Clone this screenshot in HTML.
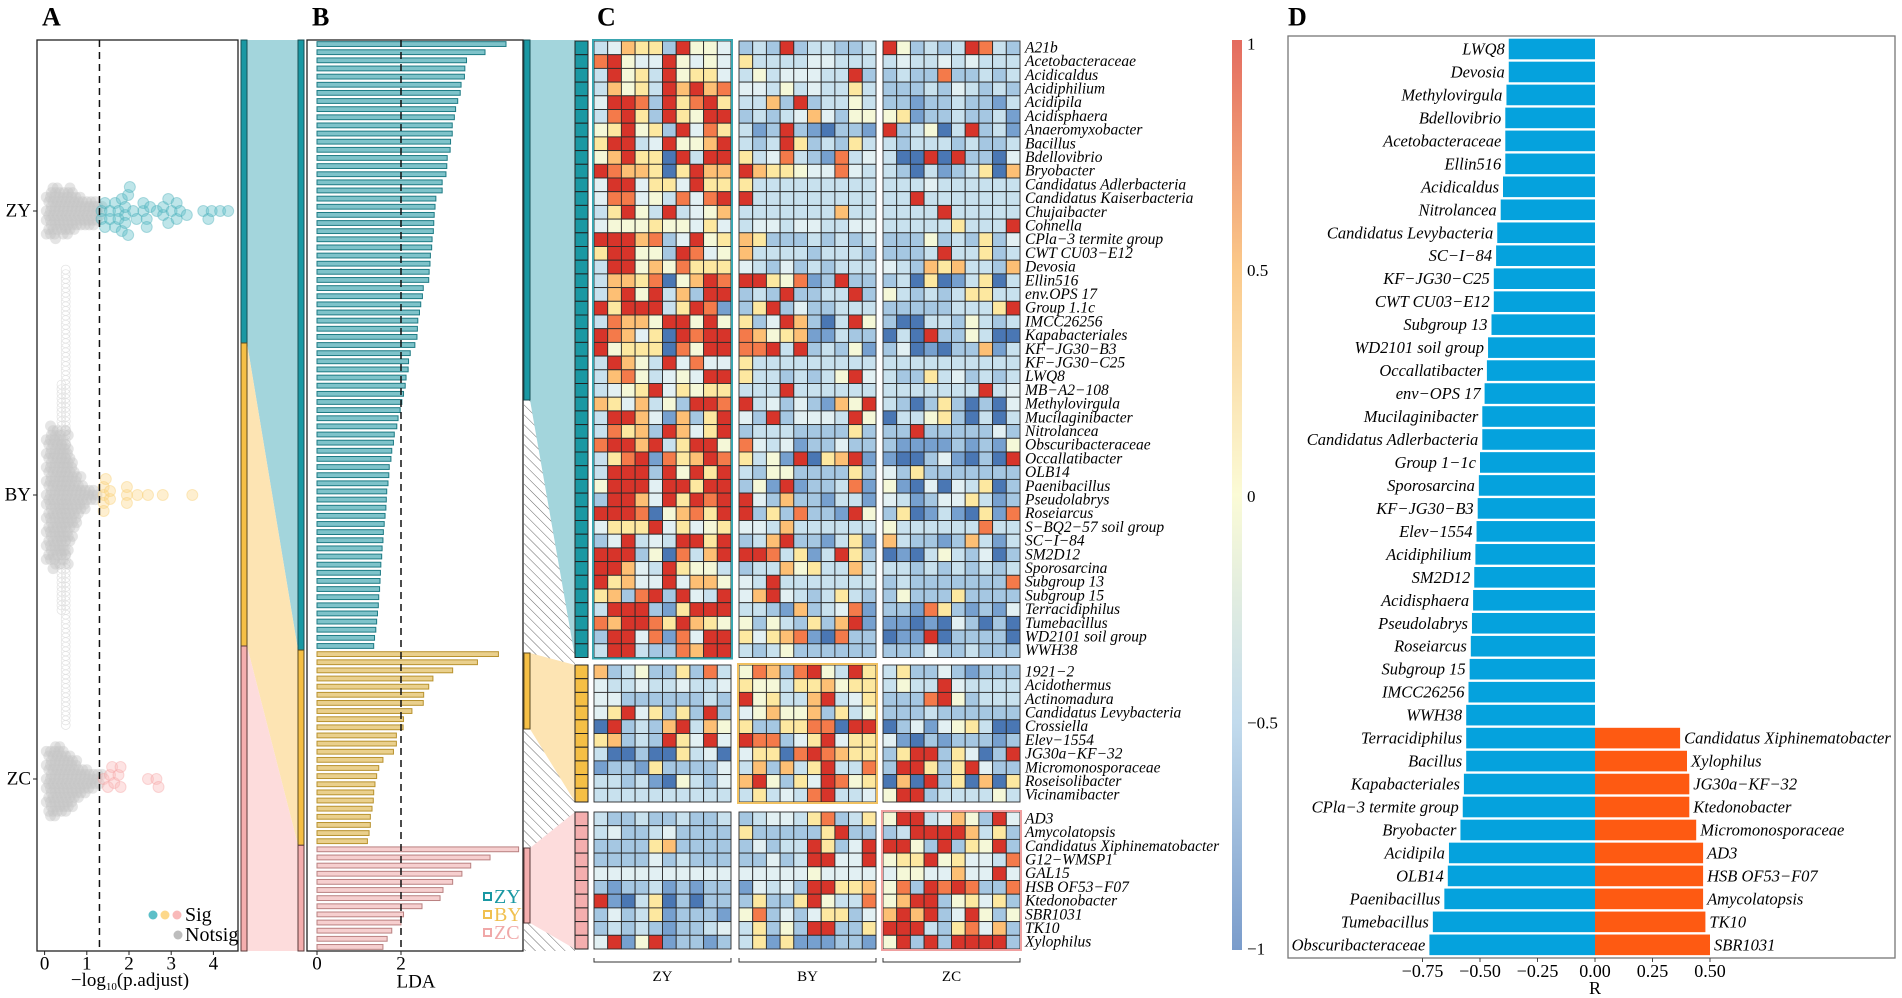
<!DOCTYPE html>
<html><head><meta charset="utf-8"><title>LEfSe and correlation figure</title>
<style>
html,body{margin:0;padding:0;background:#fff;}
svg{display:block;font-family:"Liberation Serif",serif;}
</style></head>
<body>
<svg id="fig" width="1902" height="998" viewBox="0 0 1902 998" xmlns="http://www.w3.org/2000/svg">
<defs>
<pattern id="hatch" patternUnits="userSpaceOnUse" width="7" height="7" patternTransform="rotate(-45)">
<line x1="0" y1="0" x2="0" y2="7" stroke="#555" stroke-width="0.9"/>
</pattern>
<linearGradient id="cbar" x1="0" y1="0" x2="0" y2="1">
<stop offset="0" stop-color="#e46b5f"/>
<stop offset="0.25" stop-color="#fbc98a"/>
<stop offset="0.5" stop-color="#fbfbd6"/>
<stop offset="0.75" stop-color="#c2dbed"/>
<stop offset="1" stop-color="#7a9ccb"/>
</linearGradient>
</defs>
<g id="panelA"></g>
<g id="conn1"></g>
<g id="panelB"></g>
<g id="conn2"></g>
<g id="panelC"></g>
<g id="panelD"></g>
</svg>
<script>
// ---------- Panel A data ----------
const groupsA = ["ZY","BY","ZC"];
const grayBins = [0.1,0.2,0.3,0.4,0.5,0.6,0.7,0.8,0.9,1.0,1.1,1.2,1.3];
const grayCountsZY = [10,12,11,9,10,11,8,7,7,6,6,5,4];
const grayCountsBY = [28,32,30,26,30,20,14,10,6,4,3,2,1];
const grayCountsZC = [14,16,16,14,14,12,10,8,6,5,4,4,3];
const ghostBY = [0,0,0,50,100,0,0,0,0,0,0,0,0];
const sigZY = [1.35,1.35,1.43,1.43,1.55,1.55,1.67,1.67,1.75,1.75,1.83,1.83,1.91,1.91,1.91,1.98,1.98,2.02,2.10,2.18,2.34,2.34,2.42,2.42,2.50,2.66,2.81,2.81,2.93,2.93,3.01,3.13,3.13,3.21,3.37,3.76,3.88,3.96,4.16,4.35];
const sigBY = [1.40,1.40,1.40,1.40,1.45,1.55,1.55,1.95,1.95,1.95,2.20,2.45,2.80,3.50];
const sigZC = [1.40,1.50,1.55,1.60,1.65,1.75,1.80,1.80,2.45,2.65,2.70];
const ticksA = [0,1,2,3,4];

// ---------- Panel B data ----------
const ldaZY = [4.5,4.0,3.56,3.52,3.51,3.43,3.41,3.35,3.30,3.27,3.22,3.22,3.18,3.17,3.10,3.09,3.07,2.98,2.98,2.83,2.81,2.79,2.78,2.77,2.74,2.73,2.70,2.69,2.67,2.66,2.53,2.51,2.47,2.44,2.40,2.39,2.38,2.33,2.22,2.18,2.17,2.12,2.10,2.06,2.02,1.98,1.93,1.90,1.84,1.82,1.78,1.76,1.72,1.71,1.69,1.66,1.65,1.64,1.62,1.60,1.58,1.57,1.55,1.54,1.52,1.51,1.50,1.49,1.47,1.46,1.44,1.42,1.40,1.37,1.35];
const ldaBY = [4.32,3.82,3.23,2.76,2.66,2.54,2.53,2.26,2.06,2.05,1.89,1.89,1.82,1.57,1.47,1.42,1.38,1.35,1.34,1.31,1.27,1.27,1.24,1.20];
const ldaZC = [4.80,4.12,3.66,3.45,3.23,3.00,2.93,2.50,2.06,2.00,1.78,1.67,1.57];
const ticksB = [0,2];

// ---------- Panel C data ----------
const rowsZY = ["A21b","Acetobacteraceae","Acidicaldus","Acidiphilium","Acidipila","Acidisphaera","Anaeromyxobacter","Bacillus","Bdellovibrio","Bryobacter","Candidatus Adlerbacteria","Candidatus Kaiserbacteria","Chujaibacter","Cohnella","CPla−3 termite group","CWT CU03−E12","Devosia","Ellin516","env.OPS 17","Group 1.1c","IMCC26256","Kapabacteriales","KF−JG30−B3","KF−JG30−C25","LWQ8","MB−A2−108","Methylovirgula","Mucilaginibacter","Nitrolancea","Obscuribacteraceae","Occallatibacter","OLB14","Paenibacillus","Pseudolabrys","Roseiarcus","S−BQ2−57 soil group","SC−I−84","SM2D12","Sporosarcina","Subgroup 13","Subgroup 15","Terracidiphilus","Tumebacillus","WD2101 soil group","WWH38"];
const rowsBY = ["1921−2","Acidothermus","Actinomadura","Candidatus Levybacteria","Crossiella","Elev−1554","JG30a−KF−32","Micromonosporaceae","Roseisolibacter","Vicinamibacter"];
const rowsZC = ["AD3","Amycolatopsis","Candidatus Xiphinematobacter","G12−WMSP1","GAL15","HSB OF53−F07","Ktedonobacter","SBR1031","TK10","Xylophilus"];
const colGroups = ["ZY","BY","ZC"];
const heatZY = [
"3476629554","2329233223","9523239832",
"8954495454","6333344333","3433434333",
"3956395664","3534443392","2322822323",
"3756397978","4435343363","2223243232",
"4998296896","3372923353","2212232213",
"3896296599","2323474255","5612232231",
"5695629486","3129210221","9235039231",
"6993495579","3239623263","3233323223",
"5796609399","6348321834","3009092204",
"9877606977","9766544843","3203123607",
"4994664966","6333333333","3334333333",
"4884538489","9333333333","3393333333",
"3695393457","3333333733","3333933333",
"4555655464","3443443344","3333363339",
"9997824956","7622232323","2225232624",
"6995529845","7333323332","2223933623",
"3995758666","4324232333","4327673327",
"3776805798","9965812922","2306013603",
"3795937299","2329223392","5323236633",
"9699936981","2692422333","2222233369",
"3877599595","6249720395","2003325323",
"9874609899","8756711322","0309225300",
"9566608599","8893923251","2401022713",
"3975394844","6333333333","3333333333",
"3785345499","6332323594","3226342323",
"3456946566","3339333333","3333333934",
"7647352998","9342421759","3202620204",
"3997417269","4292444395","0335620303",
"3867297469","2333222262","2292222242",
"8997936995","8434122422","2111121215",
"3689186798","6351906791","1002410209",
"3999295969","3255222262","4262222222",
"5999499699","2519122381","5104043602",
"2997496989","9427221331","4312446312",
"9998057869","9262822195","2601310618",
"4666946456","4437333333","5333333833",
"2493439969","2379221361","7322127313",
"9992508379","9983613962","0103532402",
"9974396553","2337563373","3323232323",
"9674494775","4393333333","2322222228",
"6728929439","4794323632","2522262222",
"3999216999","3321723481","2218621214",
"8799869765","5253262791","1101042020",
"2994818499","6467810822","0119022220",
"3993228799","3235222222","2224223222"];
const heatBY = [
"7235226283","5872895396","3622421222",
"4334334334","6553667566","3533943333",
"4422222232","9563379346","2228952333",
"4694626292","4575572635","2223222222",
"0923279375","6226688099","0241456300",
"6723296494","9882469466","4102122212",
"3002006340","4660898766","2699264029",
"1221622224","3727369338","2996269422",
"3323105324","7952649856","0709260706",
"3333333333","3634389334","5992333353"];
const heatZC = [
"3223223223","2344368236","5993475294",
"3422342222","6222226922","2399997362",
"2222672222","2423396249","9952926592",
"2222423222","2242399449","5669564438",
"4444444444","4444454444","4554474494",
"2122312122","1434299667","5829898228",
"9103602022","2622695338","5799256462",
"2423612221","5824246624","7979249525",
"2323212234","3625299226","9993268472",
"4915912212","3616111221","5929299992"];
const ticksCbar = ["1","0.5","0","−0.5","−1"];

// ---------- Panel D data ----------
const taxaD = ["LWQ8","Devosia","Methylovirgula","Bdellovibrio","Acetobacteraceae","Ellin516","Acidicaldus","Nitrolancea","Candidatus Levybacteria","SC−I−84","KF−JG30−C25","CWT CU03−E12","Subgroup 13","WD2101 soil group","Occallatibacter","env−OPS 17","Mucilaginibacter","Candidatus Adlerbacteria","Group 1−1c","Sporosarcina","KF−JG30−B3","Elev−1554","Acidiphilium","SM2D12","Acidisphaera","Pseudolabrys","Roseiarcus","Subgroup 15","IMCC26256","WWH38","Terracidiphilus","Bacillus","Kapabacteriales","CPla−3 termite group","Bryobacter","Acidipila","OLB14","Paenibacillus","Tumebacillus","Obscuribacteraceae"];
const negR = [-0.375,-0.375,-0.385,-0.39,-0.39,-0.39,-0.40,-0.41,-0.425,-0.43,-0.44,-0.44,-0.45,-0.465,-0.47,-0.48,-0.49,-0.49,-0.50,-0.505,-0.51,-0.515,-0.52,-0.525,-0.53,-0.535,-0.54,-0.545,-0.55,-0.56,-0.56,-0.56,-0.57,-0.575,-0.585,-0.635,-0.64,-0.655,-0.705,-0.72];
const posTaxa = ["Candidatus Xiphinematobacter","Xylophilus","JG30a−KF−32","Ktedonobacter","Micromonosporaceae","AD3","HSB OF53−F07","Amycolatopsis","TK10","SBR1031"];
const posR = [0.37,0.40,0.41,0.41,0.44,0.47,0.47,0.47,0.48,0.50];
const ticksD = [-0.75,-0.5,-0.25,0,0.25,0.5];
const tickLabelsD = ["−0.75","−0.50","−0.25","0.00","0.25","0.50"];

// ---------- drawing ----------
const NS = "http://www.w3.org/2000/svg";
function mk(tag, parent){ const e=document.createElementNS(NS,tag); parent.appendChild(e); return e; }
function txt(parent, s, x, y, size, anchor, extra){
  const t = mk("text", parent);
  t.setAttribute("x", x); t.setAttribute("y", y);
  t.setAttribute("font-size", size); t.setAttribute("text-anchor", anchor||"start");
  t.setAttribute("dominant-baseline","central");
  if (extra) for (const k in extra) t.setAttribute(k, extra[k]);
  t.textContent = s; return t;
}
const svg = document.getElementById("fig");

[["A",42],["B",312],["C",597],["D",1288]].forEach(([l,x])=>{
  const t = txt(svg, l, x, 17, 26, "start", {"font-weight":"bold"});
  
  
});

// ===== Panel A =====
const gA = document.getElementById("panelA");
const axA = v => 44.6 + 42.2*v;
const yA = {ZY:211, BY:495, ZC:779};
const boxA = mk("rect", gA);
boxA.setAttribute("x",37); boxA.setAttribute("y",40); boxA.setAttribute("width",201); boxA.setAttribute("height",911);
boxA.setAttribute("fill","none"); boxA.setAttribute("stroke","#222"); boxA.setAttribute("stroke-width","1.3");



function drawGray(counts, cy, ghost){
  counts.forEach((c,i)=>{
    for(let j=0;j<c;j++){
      const dy = (j%2?1:-1)*Math.ceil(j/2)*4.6;
      const dx = ghost ? 0 : ((j%3)-1)*2.5;
      const ci = mk("circle", gA);
      ci.setAttribute("cx", axA(grayBins[i])+dx); ci.setAttribute("cy", cy+dy); ci.setAttribute("r", ghost?4.5:5.5);
      if(ghost){ ci.setAttribute("fill","none"); ci.setAttribute("stroke","#e2e2e2"); ci.setAttribute("stroke-width","0.7"); }
      else { ci.setAttribute("fill","#c6c6c6"); ci.setAttribute("opacity","0.45"); }
      
      
    }
  });
}
drawGray(ghostBY, yA.BY, true);
drawGray(grayCountsZY, yA.ZY, false);
drawGray(grayCountsBY, yA.BY, false);
drawGray(grayCountsZC, yA.ZC, false);

function swarm(vals, cy, fill, stroke, name){
  const placed=[];
  vals.forEach(v=>{
    const x = axA(v); let y=cy;
    for(let k=0;k<60;k++){
      const dy=(k%2?1:-1)*Math.ceil(k/2)*4;
      y=cy+dy;
      if(!placed.some(p=>Math.hypot(p[0]-x,p[1]-y)<7)) break;
    }
    placed.push([x,y]);
    const ci = mk("circle", gA);
    ci.setAttribute("cx",x); ci.setAttribute("cy",y); ci.setAttribute("r",5.5);
    ci.setAttribute("fill",fill); ci.setAttribute("fill-opacity","0.4");
    ci.setAttribute("stroke",stroke); ci.setAttribute("stroke-opacity","0.35");
    
    
  });
}
swarm(sigZY, yA.ZY, "#5cbfc8", "#3aa7b2", "sig-point-zy");
swarm(sigBY, yA.BY, "#fdd88a", "#f7c860", "sig-point-by");
swarm(sigZC, yA.ZC, "#f9b9b9", "#f39c9c", "sig-point-zc");

const dashA = mk("line", gA);
dashA.setAttribute("x1",axA(1.3)); dashA.setAttribute("x2",axA(1.3)); dashA.setAttribute("y1",40); dashA.setAttribute("y2",951);
dashA.setAttribute("stroke","#111"); dashA.setAttribute("stroke-width","1.5"); dashA.setAttribute("stroke-dasharray","7,5");



groupsA.forEach(g=>{
  const tk = mk("line", gA);
  tk.setAttribute("x1",33); tk.setAttribute("x2",37); tk.setAttribute("y1",yA[g]); tk.setAttribute("y2",yA[g]); tk.setAttribute("stroke","#222");
  
  
  const t = txt(gA, g, 31, yA[g], 19, "end");
  
  
});
ticksA.forEach(v=>{
  const tk = mk("line", gA);
  tk.setAttribute("x1",axA(v)); tk.setAttribute("x2",axA(v)); tk.setAttribute("y1",951); tk.setAttribute("y2",955); tk.setAttribute("stroke","#222");
  
  
  const t = txt(gA, String(v), axA(v), 964, 19, "middle");
  
  
});
const xlA = mk("text", gA);
xlA.setAttribute("x",130); xlA.setAttribute("y",986); xlA.setAttribute("font-size",19); xlA.setAttribute("text-anchor","middle");
xlA.innerHTML = '−log<tspan font-size="11" dy="4">10</tspan><tspan dy="-4">(p.adjust)</tspan>';


[["#5cbfc8",153],["#fdd88a",165],["#f9b9b9",177]].forEach(([c,x])=>{
  const ci = mk("circle", gA); ci.setAttribute("cx",x); ci.setAttribute("cy",915); ci.setAttribute("r",4.5); ci.setAttribute("fill",c);
  
  
});
const lgS = txt(gA,"Sig",185,915,20,"start");


const lgNc = mk("circle", gA); lgNc.setAttribute("cx",178); lgNc.setAttribute("cy",935); lgNc.setAttribute("r",4.5); lgNc.setAttribute("fill","#bdbdbd");


const lgN = txt(gA,"Notsig",185,935,20,"start");



// ===== Connector A-B =====
const c1 = document.getElementById("conn1");
const nB = ldaZY.length + ldaBY.length + ldaZC.length;
const rowB = 911/nB;
const bTealEnd = 40 + ldaZY.length*rowB, bYelEnd = bTealEnd + ldaBY.length*rowB;
const aTealEnd = 343, aYelEnd = 646;
function poly(parent, pts, fill, name){
  const p = mk("polygon", parent);
  p.setAttribute("points", pts.map(q=>q.join(",")).join(" "));
  p.setAttribute("fill", fill);
  
  
  return p;
}
function rect(parent,x,y,w,h,fill,stroke,name){
  const r = mk("rect", parent);
  r.setAttribute("x",x); r.setAttribute("y",y); r.setAttribute("width",w); r.setAttribute("height",h);
  r.setAttribute("fill",fill); if(stroke){ r.setAttribute("stroke",stroke); r.setAttribute("stroke-width","1"); }
  
  
  return r;
}
poly(c1, [[247,40],[298,40],[298,bTealEnd],[247,aTealEnd]], "#a3d5dc", "flow-zy");
poly(c1, [[247,aTealEnd],[298,bTealEnd],[298,bYelEnd],[247,aYelEnd]], "#fde4b3", "flow-by");
poly(c1, [[247,aYelEnd],[298,bYelEnd],[298,951],[247,951]], "#fddcdc", "flow-zc");
rect(c1,241,40,6,aTealEnd-40,"#1a98a3","#174f55","strip-a-zy");
rect(c1,241,aTealEnd,6,aYelEnd-aTealEnd,"#f5bf45","#5a4a20","strip-a-by");
rect(c1,241,aYelEnd,6,951-aYelEnd,"#f4aeae","#5a3a3a","strip-a-zc");
rect(c1,298,40,6,bTealEnd-40,"#1a98a3","#174f55","strip-b-zy");
rect(c1,298,bTealEnd,6,bYelEnd-bTealEnd,"#f5bf45","#5a4a20","strip-b-by");
rect(c1,298,bYelEnd,6,951-bYelEnd,"#f4aeae","#5a3a3a","strip-b-zc");

// ===== Panel B =====
const gB = document.getElementById("panelB");
const axB = v => 317 + 42*v;
rect(gB,307,40,216,911,"none","#222","panel-b-frame").setAttribute("stroke-width","1.3");
const allLda = [].concat(ldaZY.map(v=>[v,"zy"]), ldaBY.map(v=>[v,"by"]), ldaZC.map(v=>[v,"zc"]));
const stylesB = {zy:["#7fc3ca","#1d7b84"], by:["#ead08d","#b8922e"], zc:["#f6cfcf","#b98080"]};
allLda.forEach(([v,g],i)=>{
  const yc = 40 + rowB*(i+0.5);
  rect(gB, axB(0), yc-2.4, axB(v)-axB(0), 4.8, stylesB[g][0], stylesB[g][1], "lda-bar-"+g);
});
const dashB = mk("line", gB);
dashB.setAttribute("x1",axB(2)); dashB.setAttribute("x2",axB(2)); dashB.setAttribute("y1",40); dashB.setAttribute("y2",951);
dashB.setAttribute("stroke","#111"); dashB.setAttribute("stroke-width","1.5"); dashB.setAttribute("stroke-dasharray","7,5");


ticksB.forEach(v=>{
  const tk = mk("line", gB);
  tk.setAttribute("x1",axB(v)); tk.setAttribute("x2",axB(v)); tk.setAttribute("y1",951); tk.setAttribute("y2",955); tk.setAttribute("stroke","#222");
  
  
  const t = txt(gB, String(v), axB(v), 964, 19, "middle");
  
  
});
const ldaT = txt(gB,"LDA",416,982,19,"middle");


[["ZY","#1a98a3",897],["BY","#f0c050",915],["ZC","#f0a8a8",933]].forEach(([l,c,y])=>{
  const r = rect(gB,484,y-4,7,7,"#fff",c,"legend-swatch-"+l.toLowerCase()); r.setAttribute("stroke-width","2");
  const t = txt(gB,l,494,y,20,"start",{fill:c});
  
  
});

// ===== Connector B-C =====
const c2 = document.getElementById("conn2");
const rowH = 13.7;
const blockTops = [41, 665, 812];
const zyBottom = blockTops[0] + heatZY.length/3*rowH;
const byBottom = blockTops[1] + heatBY.length/3*rowH;
const zcBottom = blockTops[2] + heatZC.length/3*rowH;
rect(c2,524,40,51,911,"url(#hatch)",null,"hatch-background");
poly(c2, [[530,40],[575,40],[575,zyBottom],[530,400]], "#a3d5dc", "flow-c-zy");
poly(c2, [[530,653],[575,blockTops[1]],[575,byBottom],[530,729]], "#fde4b3", "flow-c-by");
poly(c2, [[530,848],[575,blockTops[2]],[575,zcBottom],[530,923]], "#fddcdc", "flow-c-zc");
rect(c2,524,40,6,360,"#1a98a3","#174f55","strip-c-zy");
rect(c2,524,653,6,76,"#f5bf45","#5a4a20","strip-c-by");
rect(c2,524,848,6,75,"#f4aeae","#5a3a3a","strip-c-zc");

// ===== Panel C =====
const gC = document.getElementById("panelC");
const colX = [594, 739, 883];
const cellW = 13.7;
const lvl = ["#4a77b4","#76a0cf","#a5c7e2","#c8e1ee","#e2f0f3","#f5f8d8","#fde8a0","#fdbf74","#f47a4a","#d7342a"];
const annot = ["#1a98a3","#f5bf45","#f4aeae"];
const outline = ["#3aa5b0","#f0c060","#f0a0a0"];
const heatBlocks = [[rowsZY,heatZY],[rowsBY,heatBY],[rowsZC,heatZC]];
heatBlocks.forEach(([names,data],b)=>{
  names.forEach((nm,i)=>{
    const y = blockTops[b] + i*rowH;
    rect(gC,575,y,13,rowH,annot[b],"#222","row-annotation");
    for(let g=0; g<3; g++){
      const s = data[i*3+g];
      for(let c=0;c<10;c++){
        const r = rect(gC, colX[g]+c*cellW, y, cellW, rowH, lvl[+s[c]], "#2b2b2b", "heat-cell");
        r.setAttribute("stroke-width","0.9");
      }
    }
    const t = txt(gC, nm, 1025, y+rowH/2, 15.5, "start", {"font-style":"italic"});
    
    
  });
  const h = names.length*rowH;
  const ol = rect(gC, colX[b]-1, blockTops[b]-1, cellW*10+2, h+2, "none", outline[b], "group-outline");
  ol.setAttribute("stroke-width","2");
});
colGroups.forEach((g,i)=>{
  const x0 = colX[i], x1 = colX[i]+cellW*10;
  const p = mk("path", gC);
  p.setAttribute("d", `M${x0},958 L${x0},962 L${x1},962 L${x1},958`);
  p.setAttribute("fill","none"); p.setAttribute("stroke","#333");
  
  
  const t = txt(gC, g, (x0+x1)/2, 977, 15, "middle");
  
  
});
rect(gC,1232,40,10,910,"url(#cbar)",null,"colorbar");
ticksCbar.forEach((s,i)=>{
  const y = 44 + i*(949-44)/(ticksCbar.length-1);
  const t = txt(gC, s, 1247, y, 17, "start");
  
  
});

// ===== Panel D =====
const gD = document.getElementById("panelD");
const axD = v => 1595 + 230*v;
const rowD = 22.97, topD = 49;
rect(gD,1288,36,607,922,"none","#777","panel-d-frame").setAttribute("stroke-width","1.3");
taxaD.forEach((nm,i)=>{
  const yc = topD + i*rowD;
  rect(gD, axD(negR[i]), yc-10.3, axD(0)-axD(negR[i]), 20.6, "#05a2dd", null, "r-bar-negative");
  const t = txt(gD, nm, axD(negR[i])-4, yc, 16.5, "end", {"font-style":"italic"});
  
  
});
posTaxa.forEach((nm,j)=>{
  const i = taxaD.length - posTaxa.length + j;
  const yc = topD + i*rowD;
  rect(gD, axD(0), yc-10.3, axD(posR[j])-axD(0), 20.6, "#fe5a12", null, "r-bar-positive");
  const t = txt(gD, nm, axD(posR[j])+4, yc, 16.5, "start", {"font-style":"italic"});
  
  
});
ticksD.forEach((v,i)=>{
  const tk = mk("line", gD);
  tk.setAttribute("x1",axD(v)); tk.setAttribute("x2",axD(v)); tk.setAttribute("y1",958); tk.setAttribute("y2",962); tk.setAttribute("stroke","#444");
  
  
  const t = txt(gD, tickLabelsD[i], axD(v), 971, 18, "middle");
  
  
});
const rT = txt(gD,"R",1595,988,18,"middle");


</script>
</body></html>
